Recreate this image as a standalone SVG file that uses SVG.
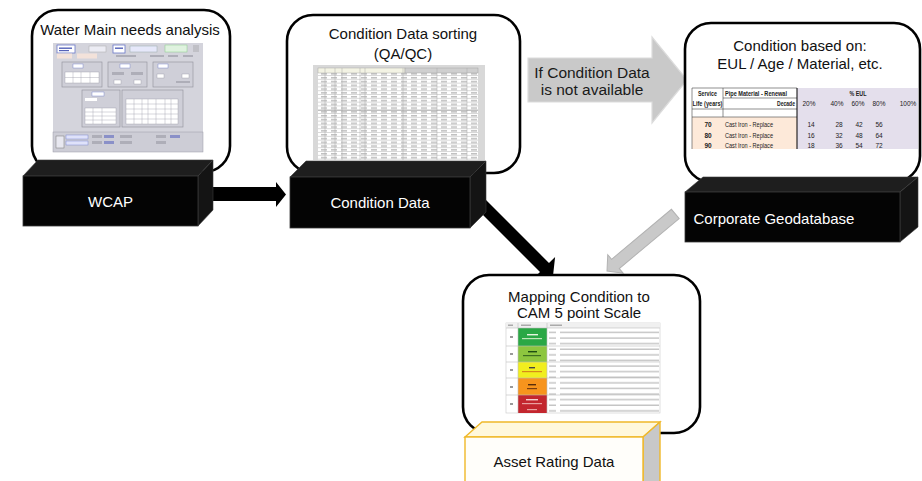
<svg xmlns="http://www.w3.org/2000/svg" width="922" height="481" viewBox="0 0 922 481">
<defs>
<style>
.node{fill:#fff;stroke:#000;stroke-width:2.6}
.t{font-family:"Liberation Sans",Arial,sans-serif;font-size:15px;fill:#111;text-anchor:middle}
.tw{font-family:"Liberation Sans",Arial,sans-serif;font-size:15px;fill:#fff;text-anchor:middle}
.front{fill:#040404;stroke:#3a3a3a;stroke-width:0.8}
.topf{fill:#1e1e1e;stroke:#3a3a3a;stroke-width:0.6}
.side{fill:#141414;stroke:#3a3a3a;stroke-width:0.6}
.tb{font-family:"Liberation Sans Narrow","Liberation Sans",Arial,sans-serif;font-size:6.5px;fill:#222}
.b{font-weight:bold}
.m{text-anchor:middle}
.panel{fill:#cfcfd8;stroke:#8f8f9a;stroke-width:0.6}
.cell{fill:#fff;stroke:#9a9aa6;stroke-width:0.4}
.grid{stroke:#bcbcbc;stroke-width:0.6}
.gray{fill:#c9c9c9;stroke:#b2b2b2;stroke-width:1}
</style>
<pattern id="ssrows" width="10" height="3.8" patternUnits="userSpaceOnUse">
<rect width="10" height="3.8" fill="#fff"/>
<rect y="3.2" width="10" height="0.6" fill="#c2c2c2"/>
<rect x="1" y="1.2" width="6" height="1.1" fill="#a9a9a9"/>
</pattern>
<pattern id="txtrows" width="112" height="5.6" patternUnits="userSpaceOnUse">
<rect x="0" y="1.4" width="108" height="1.3" fill="#bdbdbd"/>
</pattern>
</defs>

<g id="connectors">
<polygon id="arrow-wcap-condition" points="213,187 276,187 276,182 286,194.5 276,207 276,201 213,201" fill="#000"/>
<polygon id="arrow-condition-mapping" points="486,200 549,263 555.1,256.9 553,276 533.9,278.1 540,272 483,215" fill="#000"/>
<g id="arrow-not-available">
<polygon points="528,58 652,58 652,37 687,80 652,123 652,102 528,102" fill="#c9c9c9" stroke="#dcdcdc" stroke-width="1.2"/>
<text class="t" x="592" y="78" style="font-size:15.5px;fill:#1a1a1a">If Condition Data</text>
<text class="t" x="592" y="95" style="font-size:15.5px;fill:#1a1a1a">is not available</text>
</g>
<polygon id="arrow-geodatabase-mapping" class="gray" points="-89,-6 -11,-6 -11,-12 0,0 -11,12 -11,6 -89,6" transform="translate(607,271) rotate(140.1)"/>
</g>

<g id="node-water-main">
<rect class="node" x="32" y="10" width="198" height="162" rx="26"/>
<text class="t" x="130" y="35">Water Main needs analysis</text>
<rect x="53" y="43" width="150" height="109" fill="#d4d4dc"/>
<rect x="57" y="45" width="18" height="8" fill="#fff" stroke="#6a78c8" stroke-width="0.8"/>
<rect x="59" y="47.5" width="13" height="1.4" fill="#5562b8"/>
<rect x="59" y="50" width="10" height="1.2" fill="#5562b8"/>
<rect x="89" y="46" width="17" height="6" fill="#ececf4" stroke="#aaa" stroke-width="0.5"/>
<rect x="113" y="45" width="12" height="8" fill="#fff" stroke="#6a78c8" stroke-width="0.8"/>
<rect x="115" y="47.5" width="8" height="1.4" fill="#5562b8"/>
<rect x="130" y="46" width="27" height="6" fill="#e6e8fa" stroke="#9aa" stroke-width="0.5"/>
<rect x="165" y="45" width="22" height="7" fill="#dff2df" stroke="#8c8" stroke-width="0.5"/>
<rect x="193" y="45" width="6" height="7" fill="#c0c0c6"/>
<rect x="57" y="53.5" width="15" height="5" fill="#f3e2da"/>
<rect x="77" y="53.5" width="20" height="5" fill="#f3e2da"/>
<rect x="116" y="55" width="20" height="2" fill="#aeaeb8"/>
<rect x="150" y="55" width="14" height="2" fill="#aeaeb8"/>
<rect x="168" y="55" width="10" height="2" fill="#aeaeb8"/>
<rect x="183" y="55" width="10" height="2" fill="#aeaeb8"/>
<rect class="panel" x="62" y="62" width="40" height="25"/>
<rect x="73" y="64" width="10" height="4" fill="#fff" stroke="#6a78c8" stroke-width="0.4"/>
<rect class="cell" x="65" y="72" width="34" height="11"/>
<path d="M73,72V83M81,72V83M90,72V83M65,77.5H99" stroke="#9a9aa6" stroke-width="0.4"/>
<rect class="panel" x="108" y="62" width="39" height="25"/>
<rect x="120" y="64" width="10" height="4" fill="#fff" stroke="#6a78c8" stroke-width="0.4"/>
<rect x="112" y="72" width="12" height="3" fill="#aeaeb8"/>
<rect x="131" y="72" width="12" height="3" fill="#aeaeb8"/>
<rect class="cell" x="114" y="80" width="7" height="4"/>
<rect class="cell" x="134" y="80" width="7" height="4"/>
<rect class="panel" x="153" y="62" width="40" height="25"/>
<rect x="158" y="64" width="10" height="4" fill="#fff" stroke="#6a78c8" stroke-width="0.4"/>
<rect class="cell" x="157" y="74" width="7" height="4"/>
<rect class="cell" x="182" y="74" width="7" height="4"/>
<rect x="176" y="81" width="14" height="2" fill="#aeaeb8"/>
<rect class="panel" x="82" y="90" width="38" height="37"/>
<rect x="92" y="92" width="12" height="4" fill="#fff" stroke="#6a78c8" stroke-width="0.4"/>
<rect x="85" y="98" width="12" height="3" fill="#fff"/>
<rect class="cell" x="85" y="108" width="31" height="16"/>
<path d="M93,108V124M102,108V124M85,112H116M85,116H116M85,120H116" stroke="#9a9aa6" stroke-width="0.4"/>
<rect class="panel" x="122" y="90" width="61" height="37"/>
<rect class="cell" x="126" y="99" width="52" height="25"/>
<path d="M134,99V124M142,99V124M148,99V124M156,99V124M165,99V124M171,99V124M126,104H178M126,109H178M126,114H178M126,119H178" stroke="#9a9aa6" stroke-width="0.4"/>
<rect x="53" y="132" width="150" height="20" fill="#cdcdd6" stroke="#9a9aa6" stroke-width="0.5"/>
<rect x="56" y="136" width="8" height="12" fill="#e8e8f0" stroke="#777" stroke-width="0.5"/>
<rect x="66" y="135" width="22" height="4" fill="#dfe2fa" stroke="#6a78c8" stroke-width="0.4"/>
<rect x="66" y="141" width="22" height="4" fill="#dfe2fa" stroke="#6a78c8" stroke-width="0.4"/>
<rect x="92" y="135" width="10" height="3" fill="#aeaeb8"/>
<rect x="104" y="135" width="10" height="3" fill="#8a90c8"/>
<rect x="92" y="141" width="10" height="3" fill="#aeaeb8"/>
<rect x="104" y="141" width="10" height="3" fill="#8a90c8"/>
<rect x="120" y="135" width="12" height="3" fill="#aeaeb8"/>
<rect x="120" y="141" width="12" height="3" fill="#aeaeb8"/>
<rect x="156" y="135" width="10" height="3" fill="#aeaeb8"/>
<rect x="170" y="135" width="10" height="3" fill="#8a90c8"/>
<rect x="156" y="141" width="10" height="3" fill="#aeaeb8"/>
</g>

<g id="node-wcap">
<polygon class="topf" points="23,176 38,160 213,160 198,176"/>
<polygon class="side" points="198,176 213,160 213,210 198,226"/>
<rect class="front" x="23" y="176" width="175" height="50"/>
<text class="tw" x="110.5" y="207">WCAP</text>
</g>

<g id="node-condition-sorting">
<rect class="node" x="287" y="15" width="233" height="158" rx="26"/>
<text class="t" x="403" y="39">Condition Data sorting</text>
<text class="t" x="403" y="59">(QA/QC)</text>
<rect x="313" y="65" width="172" height="95" fill="#d8d8d8"/>
<rect x="318" y="68" width="160" height="92" fill="url(#ssrows)"/>
<rect x="318" y="68" width="87" height="5" fill="#f3f3e4" stroke="#999" stroke-width="0.4"/>
<rect x="405" y="68" width="73" height="5" fill="#cfcfcf" stroke="#999" stroke-width="0.4"/>
<path d="M325,68V160M335,68V160M342,68V160M360,68V160M365,68V160M403,68V160M437,68V160M467,68V160" stroke="#a8a8a8" stroke-width="0.5"/>
<path d="M318,110.5H478" stroke="#888" stroke-width="0.5"/>
</g>

<g id="node-condition-data">
<polygon class="topf" points="290,177 306,161 486,161 470,177"/>
<polygon class="side" points="470,177 486,161 486,212 470,228"/>
<rect class="front" x="290" y="177" width="180" height="51"/>
<text class="tw" x="380" y="208">Condition Data</text>
</g>

<g id="node-condition-based">
<rect class="node" x="685" y="23" width="235" height="159" rx="26"/>
<text class="t" x="800" y="51">Condition based on:</text>
<text class="t" x="800" y="69">EUL / Age / Material, etc.</text>
<rect x="692" y="88" width="105" height="30" fill="#fff"/>
<rect x="692" y="117" width="105" height="32" fill="#fde9d9"/>
<rect x="797" y="88" width="121" height="61" fill="#e4dfec"/>
<path d="M692,88H797M692,88V149M723,88V117M723,98H797M692,109H797M692,117H797" stroke="#444" stroke-width="0.6" fill="none"/>
<path d="M797,88V149" stroke="#000" stroke-width="1"/>
<text class="tb b m" x="707.5" y="96" textLength="19" lengthAdjust="spacingAndGlyphs">Service</text>
<text class="tb b" x="725" y="96" textLength="62" lengthAdjust="spacingAndGlyphs">Pipe Material - Renewal</text>
<text class="tb b" x="692.5" y="106" textLength="30" lengthAdjust="spacingAndGlyphs">Life (years)</text>
<text class="tb b" x="777" y="106" textLength="18" lengthAdjust="spacingAndGlyphs">Decade</text>
<text class="tb b m" x="858" y="96" textLength="17" lengthAdjust="spacingAndGlyphs">% EUL</text>
<text class="tb m" x="809" y="106">20%</text>
<text class="tb m" x="837" y="106">40%</text>
<text class="tb m" x="858" y="106">60%</text>
<text class="tb m" x="879" y="106">80%</text>
<text class="tb m" x="908" y="106">100%</text>
<text class="tb b m" x="708" y="126.5">70</text>
<text class="tb" x="725" y="126.5" textLength="48" lengthAdjust="spacingAndGlyphs">Cast Iron - Replace</text>
<text class="tb m" x="811" y="126.5">14</text>
<text class="tb m" x="839" y="126.5">28</text>
<text class="tb m" x="859" y="126.5">42</text>
<text class="tb m" x="879" y="126.5">56</text>
<text class="tb b m" x="708" y="137.5">80</text>
<text class="tb" x="725" y="137.5" textLength="48" lengthAdjust="spacingAndGlyphs">Cast Iron - Replace</text>
<text class="tb m" x="811" y="137.5">16</text>
<text class="tb m" x="839" y="137.5">32</text>
<text class="tb m" x="859" y="137.5">48</text>
<text class="tb m" x="879" y="137.5">64</text>
<text class="tb b m" x="708" y="147.5">90</text>
<text class="tb" x="725" y="147.5" textLength="48" lengthAdjust="spacingAndGlyphs">Cast Iron - Replace</text>
<text class="tb m" x="811" y="147.5">18</text>
<text class="tb m" x="839" y="147.5">36</text>
<text class="tb m" x="859" y="147.5">54</text>
<text class="tb m" x="879" y="147.5">72</text>
</g>

<g id="node-geodatabase">
<polygon class="topf" points="685,192 703,177 918,177 900,192"/>
<polygon class="side" points="900,192 918,177 918,227 900,242"/>
<rect class="front" x="685" y="192" width="215" height="50"/>
<text class="tw" x="774" y="224">Corporate Geodatabase</text>
</g>

<g id="node-mapping">
<rect class="node" x="463" y="275" width="237" height="158" rx="26"/>
<text class="t" x="579" y="301.5">Mapping Condition to</text>
<text class="t" x="579" y="318">CAM 5 point Scale</text>
<rect x="506" y="323" width="154" height="90" fill="#fff" stroke="#c8c8c8" stroke-width="0.6"/>
<rect x="506" y="323" width="154" height="5" fill="#f0f0f0"/>
<rect x="549" y="328" width="110" height="85" fill="url(#txtrows)"/>
<rect x="518" y="328" width="29" height="18" fill="#2aa845"/>
<rect x="518" y="346" width="29" height="16" fill="#8dc63f"/>
<rect x="518" y="362" width="29" height="16" fill="#f1ee1f"/>
<rect x="518" y="378" width="29" height="17" fill="#f7941d"/>
<rect x="518" y="395" width="29" height="18" fill="#c3262e"/>
<rect x="527" y="334" width="11" height="1.4" fill="#e8f5e0"/>
<rect x="522" y="338" width="20" height="1.2" fill="#bfe6b8"/>
<rect x="528" y="351" width="9" height="1.4" fill="#1d4d12"/>
<rect x="523" y="355" width="18" height="1.2" fill="#3d6e22"/>
<rect x="529" y="367" width="6" height="1.4" fill="#444"/>
<rect x="522" y="371" width="20" height="1.2" fill="#d68a1a"/>
<rect x="528" y="384" width="8" height="1.4" fill="#5a2d0a"/>
<rect x="527" y="388" width="10" height="1.2" fill="#7a3d10"/>
<rect x="526" y="399" width="12" height="1.4" fill="#f4d0d0"/>
<rect x="522" y="403" width="20" height="1.2" fill="#e9a0a0"/>
<rect x="527" y="409" width="10" height="1.2" fill="#e9a0a0"/>
<path d="M506,328H660M506,346H660M506,362H660M506,378H660M506,395H660M518,323V413M547,323V413" class="grid"/>
<rect x="510" y="336" width="3" height="2" fill="#999"/>
<rect x="510" y="353" width="3" height="2" fill="#999"/>
<rect x="510" y="369" width="3" height="2" fill="#999"/>
<rect x="510" y="386" width="3" height="2" fill="#999"/>
<rect x="510" y="403" width="3" height="2" fill="#999"/>
<rect x="508" y="324.5" width="5" height="1.5" fill="#aaa"/>
<rect x="521" y="324.5" width="10" height="1.5" fill="#aaa"/>
<rect x="550" y="324.5" width="12" height="1.5" fill="#aaa"/>
</g>

<g id="node-asset-rating">
<polygon points="465,437 482,422 660,422 643,437" fill="#fff8dc" stroke="#f0b829" stroke-width="1.4"/>
<polygon points="643,437 660,422 660,482 643,482" fill="#c8c8c8" stroke="#f0b829" stroke-width="1.4"/>
<rect x="465" y="437" width="178" height="46" fill="#fffefa" stroke="#f0b829" stroke-width="1.4"/>
<text class="t" x="554" y="467">Asset Rating Data</text>
</g>
</svg>
